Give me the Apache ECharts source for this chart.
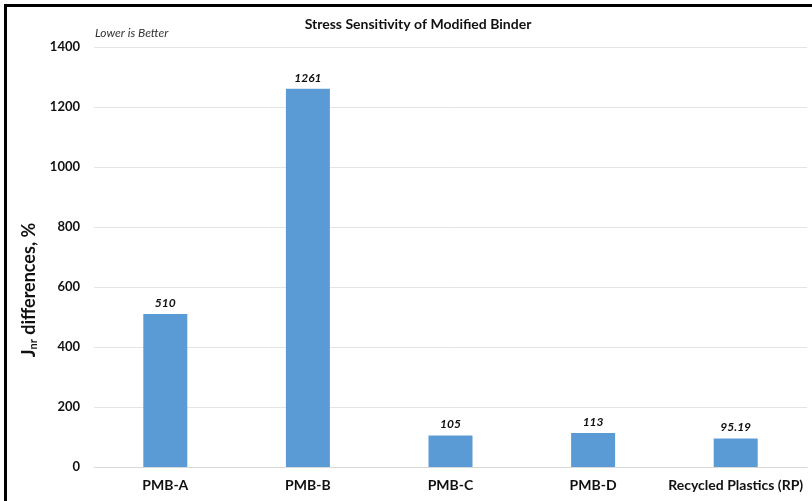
<!DOCTYPE html>
<html>
<head>
<meta charset="utf-8">
<script src="https://cdn.jsdelivr.net/npm/echarts@6/dist/echarts.min.js"></script>
<style>
  html, body { margin: 0; padding: 0; background: #fff; }
  #chart { width: 812px; height: 501px; }
</style>
</head>
<body>
<div id="chart"></div>
<script>
// Binder types and their Jnr differences (%)
const categories = ['PMB-A', 'PMB-B', 'PMB-C', 'PMB-D', 'Recycled Plastics (RP)'];
const jnrDiff = [510, 1261, 105, 113, 95.19];
const yTicks = [0, 200, 400, 600, 800, 1000, 1200, 1400];

const FONT = 'Lato, "Open Sans", sans-serif';
const chart = echarts.init(document.getElementById('chart'), null, { renderer: 'canvas' });

chart.setOption({
  backgroundColor: '#fff',
  animation: false,
  title: {
    text: 'Stress Sensitivity of Modified Binder',
    left: 413, top: 12, textAlign: 'center',
    textStyle: { fontFamily: FONT, fontSize: 14, fontWeight: 'bold', color: '#111' }
  },
  graphic: [
    // frame lines on top and left
    { type: 'rect', shape: { x: 4, y: 4, width: 808, height: 3 }, style: { fill: '#000' } },
    { type: 'rect', shape: { x: 4, y: 4, width: 3, height: 497 }, style: { fill: '#000' } },
    {
      type: 'text', left: 95, top: 27,
      style: { text: 'Lower is Better', fontFamily: FONT, fontStyle: 'italic', fontSize: 12, fill: '#333' }
    }
  ],
  grid: { left: 94, right: 5, top: 47, bottom: 34, containLabel: false },
  xAxis: {
    type: 'category',
    data: categories,
    axisLine: { lineStyle: { color: '#d9d9d9', width: 1 } },
    axisTick: { show: false },
    axisLabel: { interval: 0, margin: 11, fontFamily: FONT, fontWeight: 'bold', fontSize: 14, color: '#111' }
  },
  yAxis: {
    type: 'value',
    min: yTicks[0], max: yTicks[yTicks.length - 1], interval: 200,
    name: '{a|J}{b|nr}{a| differences, %}',
    nameLocation: 'middle',
    nameGap: 31,
    nameTextStyle: {
      padding: [0, 66, 0, 0],
      rich: {
        a: { fontFamily: FONT, fontWeight: 'bold', fontSize: 18, color: '#111' },
        b: { fontFamily: FONT, fontWeight: 'bold', fontSize: 11, color: '#111', verticalAlign: 'bottom', padding: [8, 0, 0, 0] }
      }
    },
    axisLine: { show: false },
    axisTick: { show: false },
    axisLabel: {
      margin: 14, fontFamily: FONT, fontWeight: 'bold', fontSize: 13, color: '#111',
      formatter: v => String(v)
    },
    splitLine: { lineStyle: { color: '#e4e4e4', width: 1 } }
  },
  series: [{
    type: 'bar',
    data: jnrDiff,
    barWidth: 44,
    itemStyle: { color: '#5b9bd5' },
    label: {
      show: true, position: 'top', distance: 5,
      fontFamily: FONT, fontWeight: 'bold', fontStyle: 'italic', fontSize: 12, color: '#111'
    }
  }]
});
</script>
</body>
</html>
